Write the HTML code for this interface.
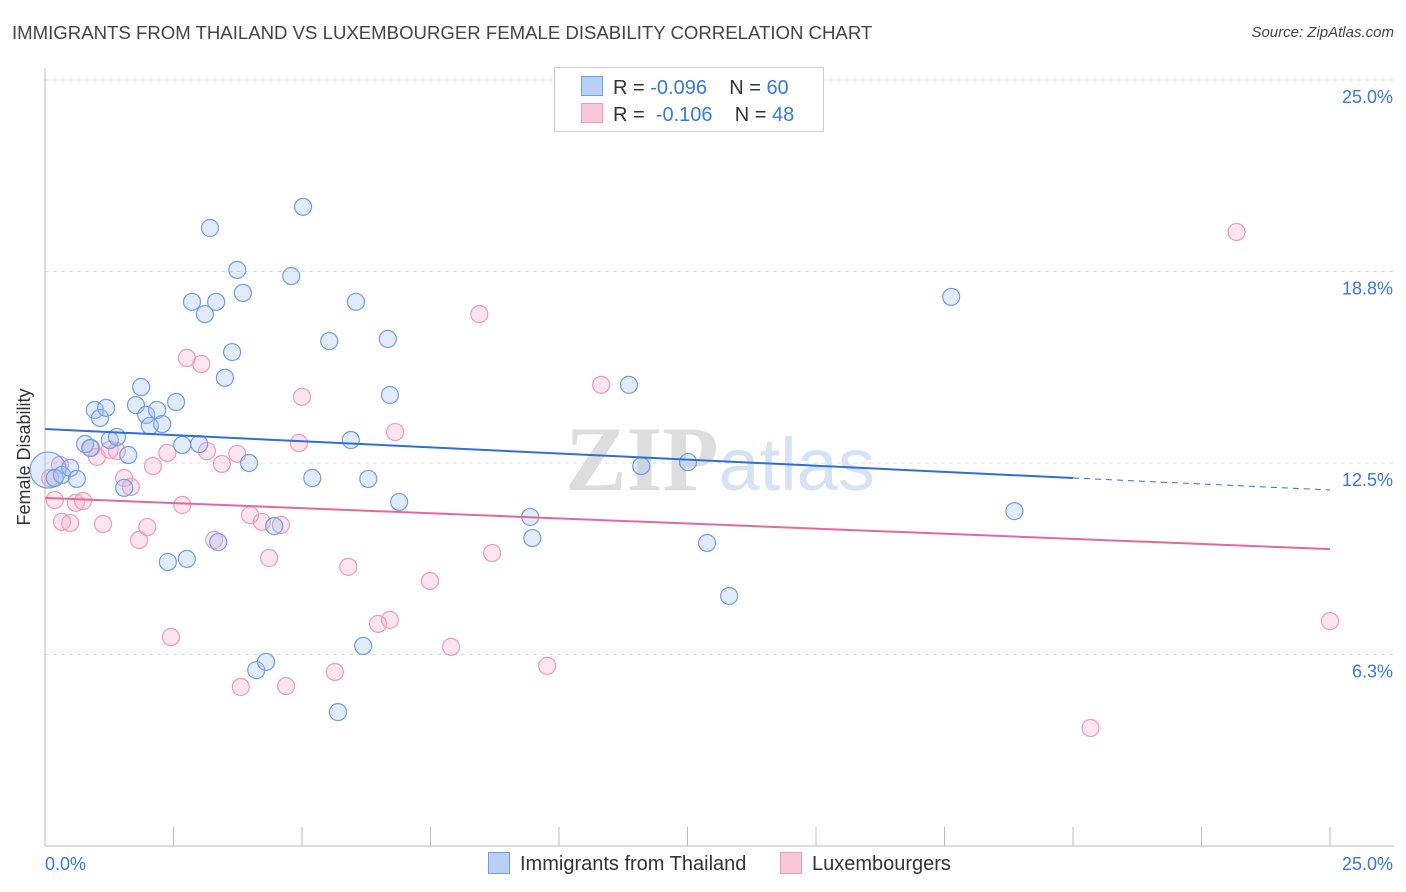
<!DOCTYPE html>
<html><head><meta charset="utf-8">
<style>
body{margin:0;background:#fff;font-family:"Liberation Sans",sans-serif;}
#wrap{position:relative;width:1406px;height:892px;overflow:hidden;}
.t{position:absolute;white-space:nowrap;}
</style></head>
<body>
<div id="wrap">
<div class="t" style="left:12px;top:22px;font-size:18.6px;color:#444;">IMMIGRANTS FROM THAILAND VS LUXEMBOURGER FEMALE DISABILITY CORRELATION CHART</div>
<div class="t" style="right:12px;top:24px;font-size:15px;color:#444;font-style:italic;">Source: ZipAtlas.com</div>
<svg id="svg" width="1406" height="892" style="position:absolute;left:0;top:0"></svg>
</div>
<script>
const xTicks=[0,2.5,5,7.5,10,12.5,15,17.5,20,22.5,25];
const yTickVals=[6.25,12.5,18.75,25];
const yTickLabels=["6.3%","12.5%","18.8%","25.0%"];
const blueX=[0.06,0.19,0.33,0.49,0.62,0.78,0.88,0.97,1.07,1.19,1.26,1.40,1.54,1.62,1.77,1.87,1.97,2.04,2.18,2.28,2.55,2.67,3.00,2.86,3.11,3.21,3.33,3.50,3.64,3.74,3.85,3.97,2.39,2.76,3.37,4.11,4.30,4.46,4.79,5.02,5.20,5.53,5.70,5.95,6.05,6.19,6.29,6.67,6.71,6.89,9.44,9.48,11.36,11.60,12.51,12.88,13.31,17.63,18.86];
const blueY=[12.27,12.01,12.11,12.34,11.98,13.12,12.99,14.23,13.97,14.30,13.25,13.35,11.69,12.76,14.39,14.98,14.07,13.71,14.23,13.77,14.49,13.09,13.12,17.76,17.36,20.17,17.76,15.28,16.12,18.80,18.05,12.50,9.27,9.37,9.92,5.74,6.01,10.44,18.60,20.86,12.01,16.48,4.37,13.25,17.76,6.53,11.98,16.55,14.72,11.23,10.74,10.05,15.05,12.40,12.53,9.89,8.16,17.92,10.93];
const pinkX=[0.10,0.19,0.33,0.49,0.60,0.74,0.90,1.01,1.13,1.26,1.40,1.54,1.67,1.83,1.99,2.10,2.38,2.45,2.67,2.76,3.04,3.15,3.29,3.44,3.74,3.81,3.99,4.22,4.36,4.59,4.69,4.94,5.00,5.64,5.90,6.48,6.71,6.81,7.49,7.90,8.45,8.70,9.77,10.82,23.18,20.34,25.00,0.29];
const pinkY=[12.01,11.29,10.58,10.54,11.20,11.26,12.99,12.70,10.51,12.93,12.89,12.01,11.72,9.99,10.41,12.40,12.83,6.82,11.13,15.93,15.73,12.89,9.99,12.47,12.80,5.19,10.80,10.58,9.40,10.48,5.22,13.15,14.66,5.68,9.11,7.25,7.38,13.51,8.65,6.50,17.36,9.56,5.88,15.05,20.04,3.85,7.34,12.44];
const blueTrend=[13.61,12.01,11.62]; // at x=0, 20, 25
const pinkTrend=[11.36,9.69]; // at x=0, 25

const NS="http://www.w3.org/2000/svg";
const svg=document.getElementById('svg');
const X=v=>45+v*51.4;
const Y=v=>846-v*30.64;
function mk(tag,attrs,parent){const e=document.createElementNS(NS,tag);for(const k in attrs)e.setAttribute(k,attrs[k]);(parent||svg).appendChild(e);return e;}

yTickVals.forEach((v,i)=>{
 const g=mk('line',{x1:45,x2:1394,y1:Y(v),y2:Y(v),stroke:'#ddd','stroke-dasharray':'4,4'});
 
 
 const t=mk('text',{x:1393,y:Y(v)+23,'text-anchor':'end','font-size':18,fill:'#3b78d8','font-family':'Liberation Sans'});
 t.textContent=yTickLabels[i];
 
 
});
const topg=mk('line',{x1:45,x2:1394,y1:80,y2:80,stroke:'#ddd','stroke-dasharray':'4,4'});


const ax=mk('line',{x1:45,x2:45,y1:68,y2:846,stroke:'#bbb'});


const bx=mk('line',{x1:45,x2:1394,y1:846,y2:846,stroke:'#bbb'});


xTicks.forEach(v=>{
 const l=mk('line',{x1:X(v),x2:X(v),y1:827,y2:846,stroke:'#bbb'});
 
 
});
[["0.0%",45,'start'],["25.0%",1393,'end']].forEach(a=>{
 const t=mk('text',{x:a[1],y:870,'text-anchor':a[2],'font-size':18,fill:'#3b78d8','font-family':'Liberation Sans'});
 t.textContent=a[0];
 
 
});
const yt=mk('text',{x:30,y:457,'text-anchor':'middle','font-size':18,fill:'#333','font-family':'Liberation Sans',transform:'rotate(-90 30 457)'});
yt.textContent='Female Disability';


const wm=mk('text',{x:720,y:490,'text-anchor':'middle','font-size':92,'font-family':'Liberation Serif'});
wm.innerHTML='<tspan fill="#ddd" font-weight="bold">ZIP</tspan><tspan fill="#d5e3f5" font-family="Liberation Sans" font-size="74">atlas</tspan>';


pinkX.forEach((v,i)=>{
 const c=mk('circle',{cx:X(v),cy:Y(pinkY[i]),r:8.5,fill:'rgba(245,170,200,0.3)',stroke:'#ee9ab8','stroke-width':1.2});
 
 
});
blueX.forEach((v,i)=>{
 const c=mk('circle',{cx:X(v),cy:Y(blueY[i]),r:i===0?18:8.5,fill:'rgba(160,190,240,0.3)',stroke:'#6f9ee8','stroke-width':1.2});
 
 
});
const bt=mk('line',{x1:X(0),y1:Y(blueTrend[0]),x2:X(20),y2:Y(blueTrend[1]),stroke:'#2f6fd6','stroke-width':2});


const bd=mk('line',{x1:X(20),y1:Y(blueTrend[1]),x2:X(25),y2:Y(blueTrend[2]),stroke:'#2f6fd6','stroke-width':1,'stroke-dasharray':'6,5'});


const pt=mk('line',{x1:X(0),y1:Y(pinkTrend[0]),x2:X(25),y2:Y(pinkTrend[1]),stroke:'#e4699a','stroke-width':2});


</script>
<div class="t" style="left:554px;top:67px;width:268px;height:63px;border:1px solid #ccc;background:#fff;">
 <div style="position:absolute;left:26px;top:8px;font-size:20px;color:#333;">
  <span style="display:inline-block;width:20px;height:18px;background:#b8d0f5;border:1px solid #6f9ee8;vertical-align:-2px;margin-right:10px"></span>R = <span style="color:#3b78d8">-0.096</span>&nbsp;&nbsp;&nbsp; N = <span style="color:#3b78d8">60</span></div>
 <div style="position:absolute;left:26px;top:35px;font-size:20px;color:#333;">
  <span style="display:inline-block;width:20px;height:18px;background:#f9c9da;border:1px solid #ee9ab8;vertical-align:-2px;margin-right:10px"></span>R = &nbsp;<span style="color:#3b78d8">-0.106</span>&nbsp;&nbsp;&nbsp; N = <span style="color:#3b78d8">48</span></div>
</div>
<div class="t" style="left:488px;top:852px;font-size:20px;color:#333;">
 <span><span style="display:inline-block;width:20px;height:20px;background:#b8d0f5;border:1px solid #6f9ee8;vertical-align:-4px;margin-right:10px"></span>Immigrants from Thailand</span>
 <span style="margin-left:28px"><span style="display:inline-block;width:20px;height:20px;background:#f9c9da;border:1px solid #ee9ab8;vertical-align:-4px;margin-right:10px"></span>Luxembourgers</span>
</div>
</body></html>
